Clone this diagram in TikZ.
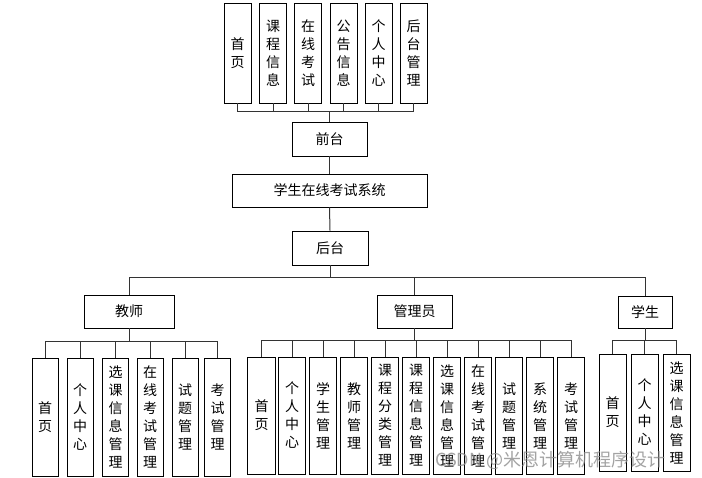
\documentclass[tikz,border=0pt]{standalone}
\usepackage{fontspec}
\setmainfont{Noto Sans CJK SC}
\begin{document}
\begin{tikzpicture}[x=1pt,y=-1pt,
  box/.style={draw=black,line width=0.9pt,fill=white,inner sep=0pt,align=center,
    font=\fontsize{14}{18}\selectfont},
  vbox/.style={box,minimum width=#1,text width=#1},
  conn/.style={draw=black!80,line width=1pt}]
\useasboundingbox (0,0) rectangle (702,478);
% top level
\foreach \n/\x/\t in {t1/237.5/首\\页, t2/273/课\\程\\信\\息, t3/308/在\\线\\考\\试,
  t4/343.5/公\\告\\信\\息, t5/378.5/个\\人\\中\\心, t6/413.5/后\\台\\管\\理}
  \node[vbox=27pt,minimum height=100pt] (\n) at (\x,53) {\t};
\node[box,minimum width=75pt,minimum height=34pt] (qt) at (329.5,139) {前台};
\node[box,minimum width=195pt,minimum height=33pt] (sys) at (329.5,190.5) {学生在线考试系统};
\node[box,minimum width=76pt,minimum height=34pt] (ht) at (330,248) {后台};
\node[box,minimum width=90pt,minimum height=33pt] (js) at (129,311.5) {教师};
\node[box,minimum width=75pt,minimum height=33pt] (gl) at (414.5,311.5) {管理员};
\node[box,minimum width=54pt,minimum height=32pt] (xs) at (645,312) {学生};
% teacher children
\foreach \n/\x/\t in {a1/45/首\\页, a2/80/个\\人\\中\\心, a3/115.5/选\\课\\信\\息\\管\\理,
  a4/150/在\\线\\考\\试\\管\\理, a5/185/试\\题\\管\\理, a6/217.5/考\\试\\管\\理}
  \node[vbox=26pt,minimum height=118pt] (\n) at (\x,417) {\t};
% admin children
\foreach \n/\x/\t in {b1/261.5/首\\页, b2/292/个\\人\\中\\心, b3/323/学\\生\\管\\理,
  b4/354/教\\师\\管\\理, b5/385/课\\程\\分\\类\\管\\理, b6/416/课\\程\\信\\息\\管\\理,
  b7/447/选\\课\\信\\息\\管\\理, b8/478/在\\线\\考\\试\\管\\理, b9/509/试\\题\\管\\理,
  b10/540/系\\统\\管\\理, b11/571/考\\试\\管\\理}
  \node[vbox=27.5pt,minimum height=117pt] (\n) at (\x,415.5) {\t};
% student children
\foreach \n/\x/\t in {c1/612.5/首\\页, c2/644.5/个\\人\\中\\心, c3/676.5/选\\课\\信\\息\\管\\理}
  \node[vbox=27pt,minimum height=117pt] (\n) at (\x,412.5) {\t};
% bus coordinates
\coordinate (busT) at (329.5,112);
\coordinate (busH) at (330,278);
\coordinate (busA) at (129,342);
\coordinate (busB) at (414.5,341);
\coordinate (busC) at (645,341);
% connectors
\foreach \n in {t1,t2,t3,t4,t5,t6} \draw[conn] (\n.south) |- (busT);
\draw[conn] (busT) -- (qt.north);
\draw[conn] (qt.south) -- (sys.north);
\draw[conn] (sys.south) -- (ht.north);
\draw[conn] (ht.south) -- (busH);
\foreach \n in {js,gl,xs} \draw[conn] (\n.north) |- (busH);
\draw[conn] (js.south) -- (busA);
\foreach \n in {a1,a2,a3,a4,a5,a6} \draw[conn] (\n.north) |- (busA);
\draw[conn] (gl.south) -- (busB);
\foreach \n in {b1,b2,b3,b4,b5,b6,b7,b8,b9,b10,b11} \draw[conn] (\n.north) |- (busB);
\draw[conn] (xs.south) -- (busC);
\foreach \n in {c1,c2,c3} \draw[conn] (\n.north) |- (busC);
% watermark
\node[anchor=west,inner sep=0pt,text=black!45,opacity=0.8,font=\fontsize{18}{20}\selectfont] (wm) at (435,460) {CSDN @米恩计算机程序设计};
\end{tikzpicture}
\end{document}
